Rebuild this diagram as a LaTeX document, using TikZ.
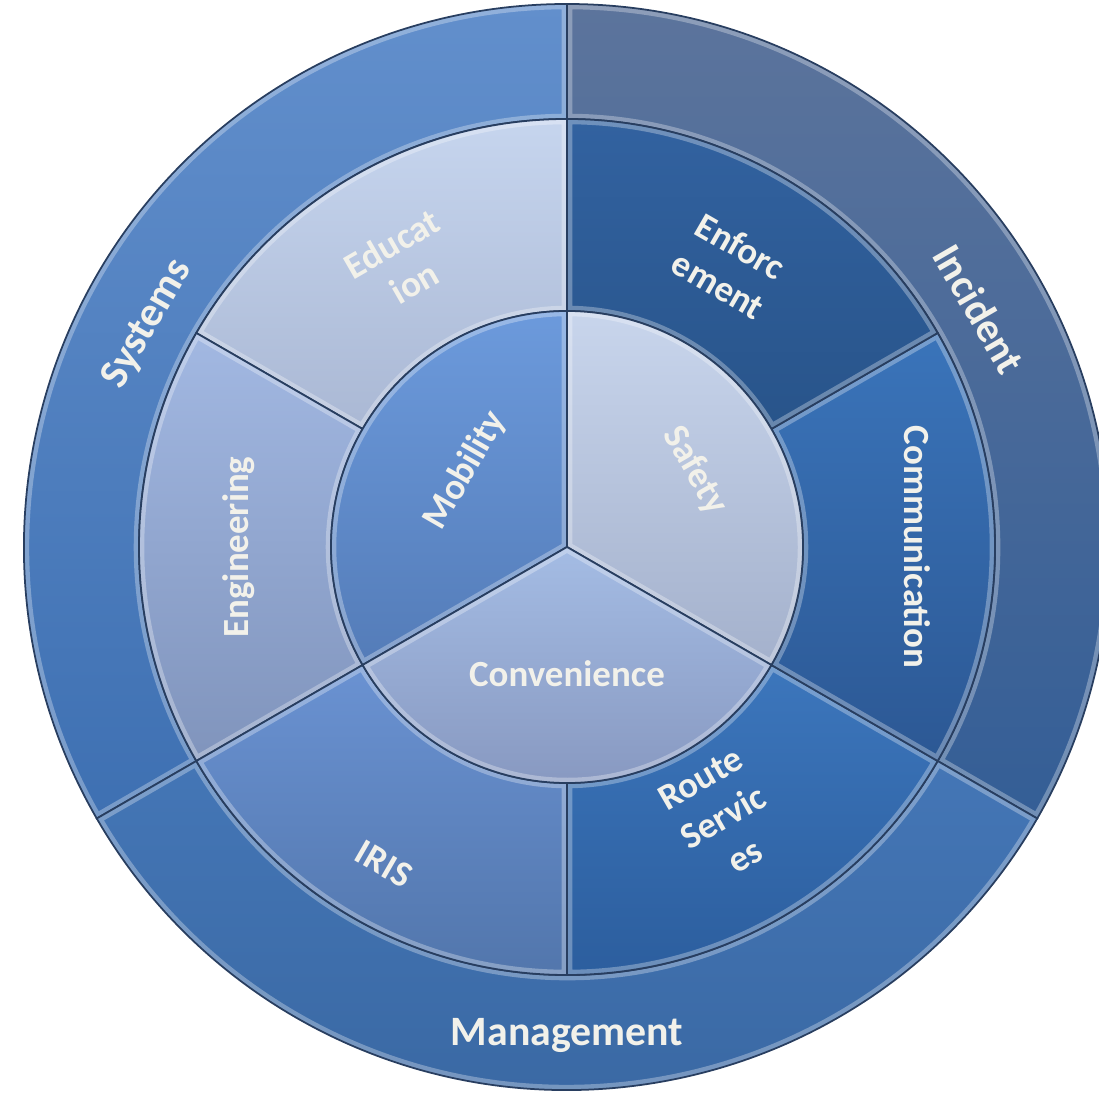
\documentclass[tikz,border=0pt]{standalone}
\usepackage{fontspec}
\setmainfont{Carlito}
\usepackage{color}
\usepackage{tikz}
\definecolor{wheelline}{RGB}{40,62,96}
\definecolor{wheeltext}{RGB}{242,241,234}
\definecolor{systemstop}{RGB}{98,143,204}
\definecolor{systemsbot}{RGB}{62,112,178}
\definecolor{incidenttop}{RGB}{92,116,156}
\definecolor{incidentbot}{RGB}{52,94,150}
\definecolor{managetop}{RGB}{68,118,182}
\definecolor{managebot}{RGB}{56,102,160}
\definecolor{educationtop}{RGB}{198,213,238}
\definecolor{educationbot}{RGB}{170,184,212}
\definecolor{engineertop}{RGB}{162,184,226}
\definecolor{engineerbot}{RGB}{128,148,188}
\definecolor{iristop}{RGB}{106,146,210}
\definecolor{irisbot}{RGB}{82,118,172}
\definecolor{routetop}{RGB}{60,118,188}
\definecolor{routebot}{RGB}{44,94,158}
\definecolor{commtop}{RGB}{58,116,186}
\definecolor{commbot}{RGB}{44,88,148}
\definecolor{enforcetop}{RGB}{50,98,160}
\definecolor{enforcebot}{RGB}{40,84,138}
\definecolor{mobilitytop}{RGB}{108,154,220}
\definecolor{mobilitybot}{RGB}{84,124,184}
\definecolor{safetytop}{RGB}{200,213,236}
\definecolor{safetybot}{RGB}{164,177,204}
\definecolor{conventop}{RGB}{164,188,228}
\definecolor{convenbot}{RGB}{132,148,188}

% one piece of the wheel: shading, a light rim inside, a dark edge
\newcommand\wheelpart[2]{%
  \path[top color=#1top,bottom color=#1bot] #2;
  \begin{scope}
    \clip #2;
    \draw[white,opacity=0.3,line width=3pt] #2;
  \end{scope}
  \draw[part] #2;}

\begin{document}
\begin{tikzpicture}[
  part/.style={draw=wheelline,line width=0.5pt},
  ringtext/.style={text=wheeltext,align=center,inner sep=0pt,
    font=\fontsize{10.5}{12.7}\selectfont\bfseries},
  outertext/.style={ringtext,font=\fontsize{11.9}{14.3}\selectfont\bfseries}]
\useasboundingbox (0,0) rectangle (10.99,10.94);
\clip (0,0) rectangle (10.99,10.94);
\begin{scope}[shift={(5.67,5.47)}]
% outer ring
\wheelpart{systems}{(90:4.28) arc[start angle=90,end angle=210,radius=4.28]
  -- (210:5.43) arc[start angle=210,end angle=90,radius=5.43] -- cycle}
\wheelpart{incident}{(-30:4.28) arc[start angle=-30,end angle=90,radius=4.28]
  -- (90:5.43) arc[start angle=90,end angle=-30,radius=5.43] -- cycle}
\wheelpart{manage}{(210:4.28) arc[start angle=210,end angle=330,radius=4.28]
  -- (330:5.43) arc[start angle=330,end angle=210,radius=5.43] -- cycle}
% middle ring
\wheelpart{education}{(90:2.36) arc[start angle=90,end angle=150,radius=2.36]
  -- (150:4.28) arc[start angle=150,end angle=90,radius=4.28] -- cycle}
\wheelpart{engineer}{(150:2.36) arc[start angle=150,end angle=210,radius=2.36]
  -- (210:4.28) arc[start angle=210,end angle=150,radius=4.28] -- cycle}
\wheelpart{iris}{(210:2.36) arc[start angle=210,end angle=270,radius=2.36]
  -- (270:4.28) arc[start angle=270,end angle=210,radius=4.28] -- cycle}
\wheelpart{route}{(270:2.36) arc[start angle=270,end angle=330,radius=2.36]
  -- (330:4.28) arc[start angle=330,end angle=270,radius=4.28] -- cycle}
\wheelpart{comm}{(-30:2.36) arc[start angle=-30,end angle=30,radius=2.36]
  -- (30:4.28) arc[start angle=30,end angle=-30,radius=4.28] -- cycle}
\wheelpart{enforce}{(30:2.36) arc[start angle=30,end angle=90,radius=2.36]
  -- (90:4.28) arc[start angle=90,end angle=30,radius=4.28] -- cycle}
% inner circle
\wheelpart{mobility}{(0,0) -- (90:2.36) arc[start angle=90,end angle=210,radius=2.36] -- cycle}
\wheelpart{safety}{(0,0) -- (-30:2.36) arc[start angle=-30,end angle=90,radius=2.36] -- cycle}
\wheelpart{conven}{(0,0) -- (210:2.36) arc[start angle=210,end angle=330,radius=2.36] -- cycle}

\node[outertext,rotate=60] (systems) at (152:4.75) {Systems};
\node[outertext,rotate=-60] (incident) at (30:4.76) {Incident};
\node[outertext] (management) at (270:4.88) {Management};
\node[ringtext,rotate=30] (education) at (120:3.28) {Educat\\ion};
\node[ringtext,rotate=-30] (enforcement) at (60:3.25) {Enforc\\ement};
\node[ringtext,rotate=90] (engineering) at (180:3.28) {Engineering};
\node[ringtext,rotate=-90] (communication) at (0:3.50) {Communication};
\node[ringtext,rotate=-30] (iris) at (240:3.66) {IRIS};
\node[ringtext,rotate=30] (route) at (300:3.12) {Route\\Servic\\es};
\node[ringtext,rotate=60] (mobility) at (143:1.27) {Mobility};
\node[ringtext,rotate=-60] (safety) at (31:1.49) {Safety};
\node[ringtext] (convenience) at (270:1.27) {Convenience};
\end{scope}
\end{tikzpicture}
\end{document}
